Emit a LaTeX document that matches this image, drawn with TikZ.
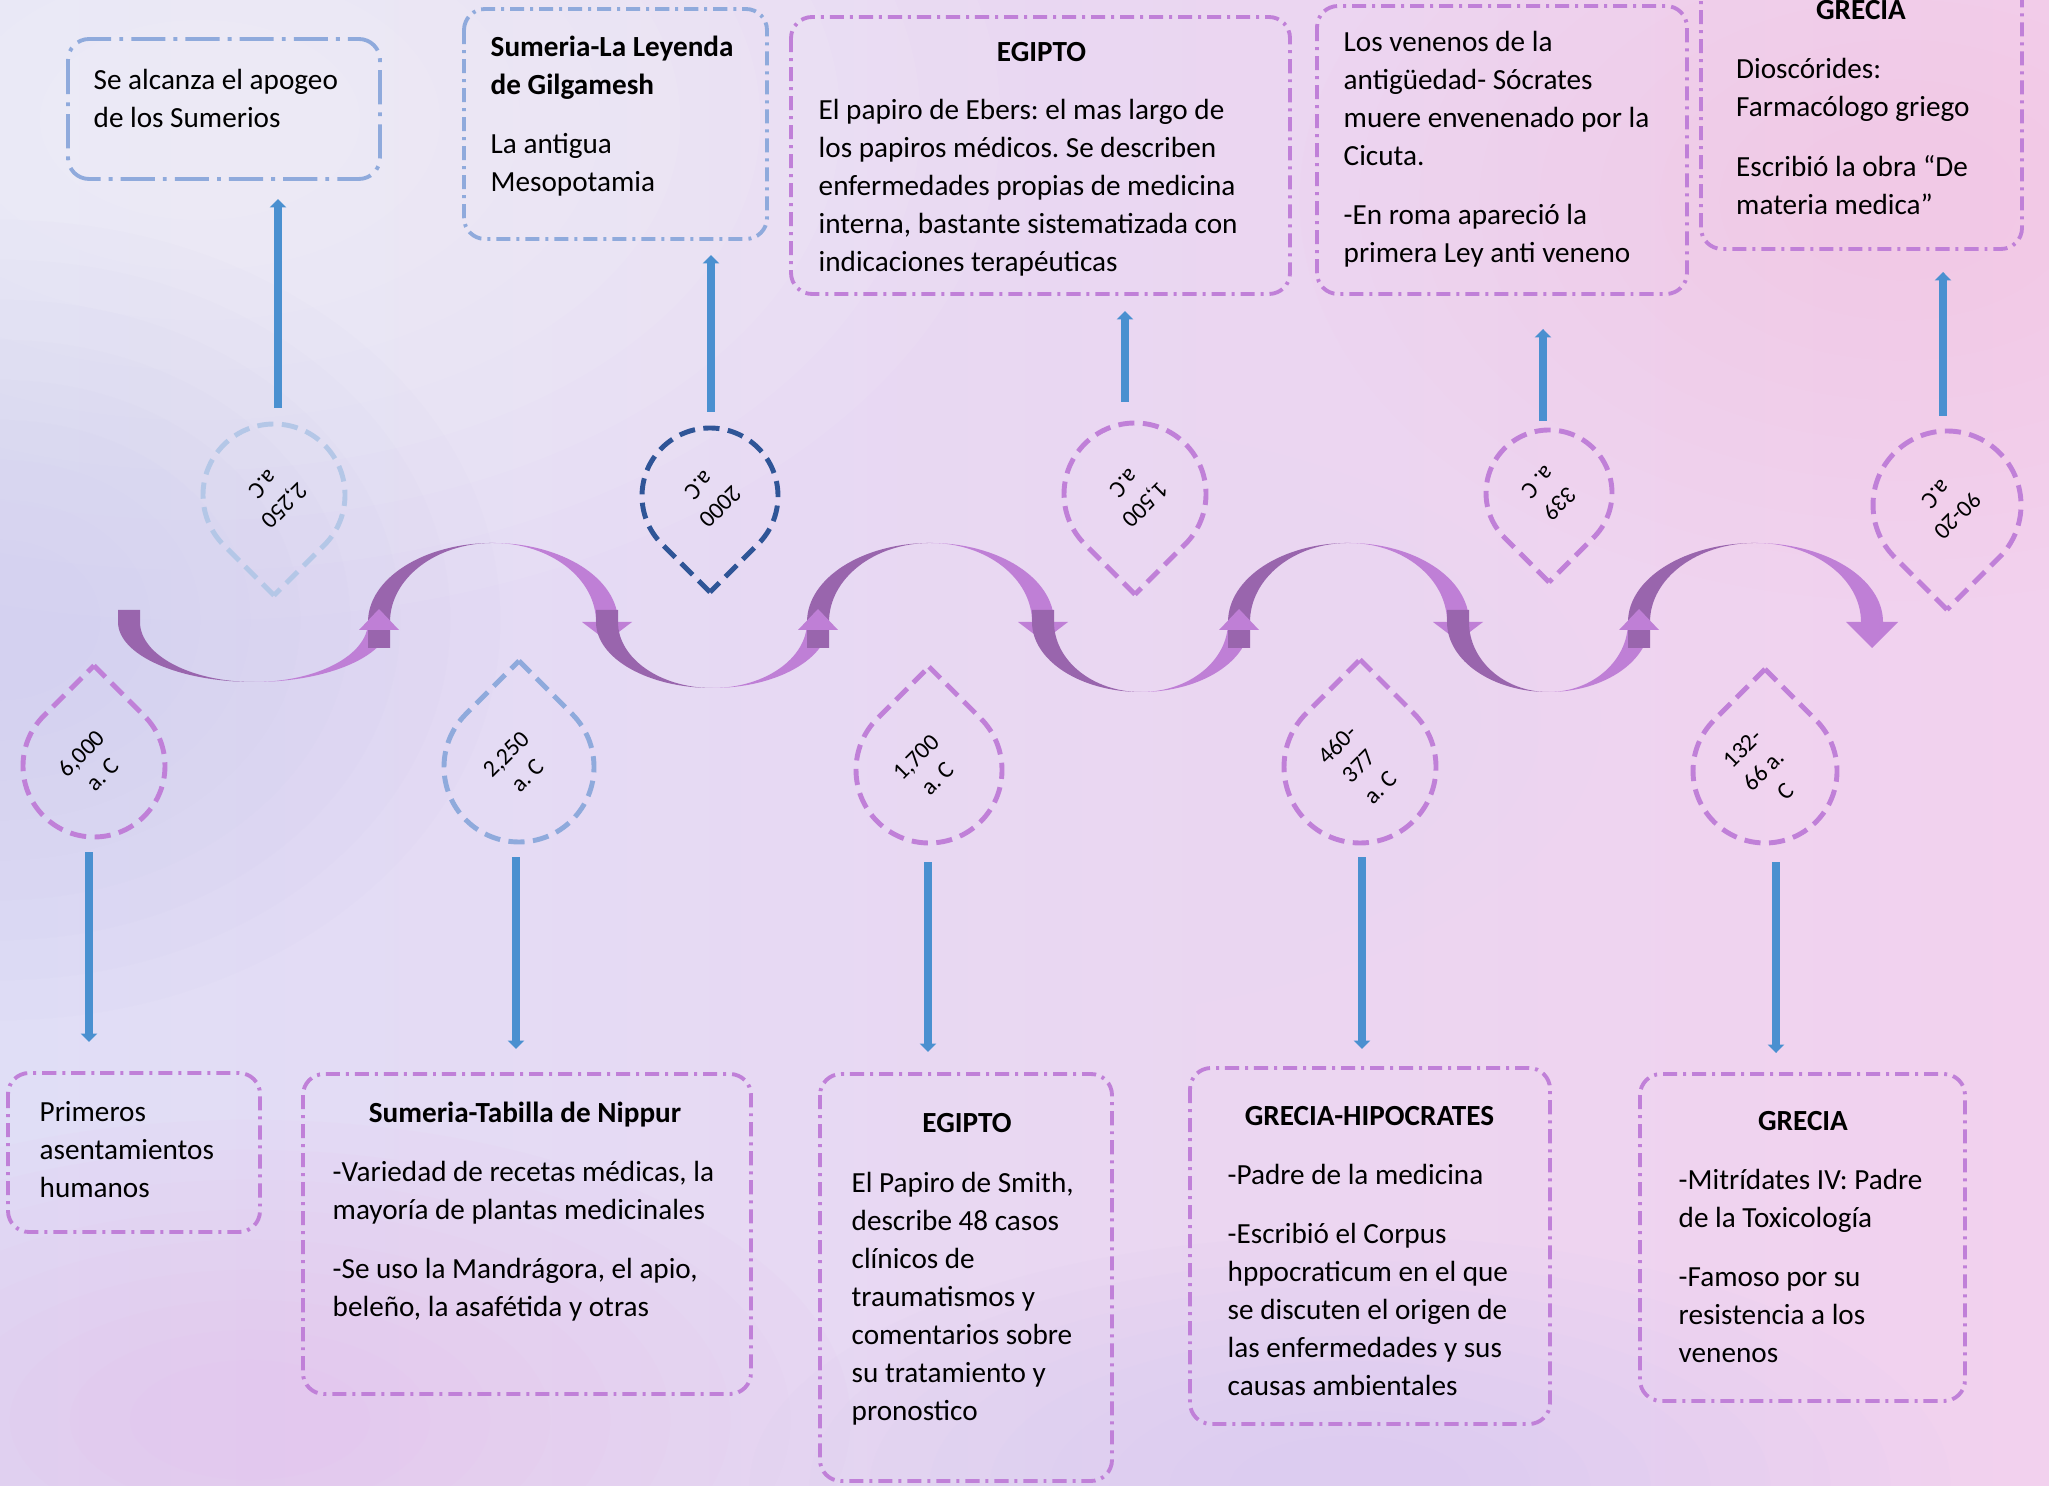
\documentclass[tikz,border=0pt]{standalone}
\usepackage{fontspec}
\setmainfont{Carlito}
\usetikzlibrary{arrows.meta}
\definecolor{pur}{HTML}{C080D8}
\definecolor{blu}{HTML}{8FAADC}
\definecolor{lblu}{HTML}{B4C7E7}
\definecolor{dblu}{HTML}{2F5597}
\definecolor{wavel}{HTML}{BF7FD6}
\definecolor{waved}{HTML}{9965AD}
\definecolor{arrb}{HTML}{4A90D0}
\definecolor{bgL}{HTML}{E0DEF6}
\definecolor{bgR}{HTML}{F2D1EE}
\definecolor{bbA}{HTML}{C9C6F0}
\definecolor{bbB}{HTML}{E4B6EE}
\definecolor{bbC}{HTML}{EAE2F8}
\definecolor{bbD}{HTML}{F6C4E6}
\definecolor{bbE}{HTML}{CFC3F0}
\definecolor{bbF}{HTML}{F4D4F4}
% hump: #1 = left end x, #2 = right end x (centre lines); m = 622, b = 79, w = 22
\newcommand\wavehump[2]{%
 \pgfmathsetmacro\wc{(#1+#2)/2}%
 \pgfmathsetmacro\wo{(#2-#1)/2+11}%
 \pgfmathsetmacro\wi{(#2-#1)/2-11}%
 \fill[waved] (#1-11,648) -- (#1-11,622) arc[start angle=180,end angle=90,x radius={\wo*0.01cm},y radius=0.79cm] arc[start angle=90,end angle=180,x radius={\wi*0.01cm},y radius=0.79cm] -- (#1+11,648) -- cycle;%
 \fill[wavel] (\wc,543) arc[start angle=90,end angle=0,x radius={\wo*0.01cm},y radius=0.79cm] -- (#2+11,624) -- (#2-11,624) -- (#2-11,622) arc[start angle=0,end angle=90,x radius={\wi*0.01cm},y radius=0.79cm] -- cycle;%
}
% dip: #1 left x, #2 right x, #3 depth b
\newcommand\wavedip[3]{%
 \pgfmathsetmacro\wc{(#1+#2)/2}%
 \pgfmathsetmacro\wo{(#2-#1)/2+11}%
 \pgfmathsetmacro\wi{(#2-#1)/2-11}%
 \pgfmathsetmacro\wb{622+#3}%
 \fill[waved] (#1-11,610) -- (#1-11,622) arc[start angle=180,end angle=270,x radius={\wo*0.01cm},y radius={#3*0.01cm}] arc[start angle=270,end angle=180,x radius={\wi*0.01cm},y radius={#3*0.01cm}] -- (#1+11,610) -- cycle;%
 \fill[wavel] (\wc,\wb) arc[start angle=270,end angle=360,x radius={\wo*0.01cm},y radius={#3*0.01cm}] -- (#2+11,630) -- (#2-11,630) -- (#2-11,622) arc[start angle=360,end angle=270,x radius={\wi*0.01cm},y radius={#3*0.01cm}] -- cycle;%
}
\newcommand\uphead[1]{\fill[wavel] (#1-20,630) -- (#1+20,630) -- (#1,609) -- cycle;}
\newcommand\downhead[1]{\fill[wavel] (#1-25,622) -- (#1+25,622) -- (#1,641) -- cycle;}
\newcommand\dropU[4]{%
 \draw[dropst,draw=#4] (#1,#2-1.4142*#3) -- (#1+0.7071*#3,#2-0.7071*#3) arc[start angle=45,end angle=-225,radius={#3*0.01cm}] -- cycle;}
\newcommand\dropD[4]{%
 \draw[dropst,draw=#4] (#1,#2+1.4142*#3) -- (#1-0.7071*#3,#2+0.7071*#3) arc[start angle=225,end angle=-45,radius={#3*0.01cm}] -- cycle;}
\newcommand\blob[6]{%
 \foreach \s in {1,0.9,0.8,0.7,0.6,0.5,0.4,0.3,0.2}{\fill[#5,opacity=#6] (#1,#2) ellipse[x radius={#3cm*\s},y radius={#4cm*\s}];}}
\frenchspacing
\begin{document}
\begin{tikzpicture}[x=0.01cm,y=-0.01cm,
  boxp/.style={draw=pur,line width=1.1pt,rounded corners=6pt,dash pattern=on 4pt off 1.7pt on 0.85pt off 1.7pt},
  boxb/.style={boxp,draw=blu},
  boxbig/.style={boxb,dash pattern=on 9.7pt off 2.3pt on 1.1pt off 2.3pt},
  dropst/.style={line width=1.4pt,dash pattern=on 4.6pt off 2.4pt},
  txt/.style={anchor=north west,inner sep=0pt,align=left,font=\fontsize{8.3}{10.8}\selectfont},
  ttl/.style={anchor=base,inner sep=0pt,font=\fontsize{8.3}{10.8}\selectfont\bfseries},
  dtxt/.style={inner sep=0pt,align=center,font=\fontsize{6.8}{8.6}\selectfont},
  conn/.style={draw=arrb,line width=2.2pt,-{Triangle[width=4.6pt,length=2.4pt]}},
]
\useasboundingbox (0,0) rectangle (2049,1486);
\clip (0,0) rectangle (2049,1486);
% background
\shade[left color=bgL,right color=bgR] (0,0) rectangle (2049,1486);
\blob{200}{120}{8}{5}{white}{0.07}
\blob{0}{620}{5}{4}{bbA}{0.06}
\blob{250}{1420}{6}{3}{bbB}{0.06}
\blob{1000}{720}{6}{3}{bbC}{0.05}
\blob{1900}{200}{6}{4}{bbD}{0.06}
\blob{1350}{1486}{6}{2.5}{bbE}{0.06}
\blob{1950}{1250}{4}{3}{bbF}{0.05}
% wave
\wavedip{129}{379}{60}
\wavehump{379}{607}
\downhead{607}
\wavedip{607}{818}{66}
\wavehump{818}{1043}
\downhead{1043}
\wavedip{1043}{1239}{70}
\wavehump{1239}{1458}
\downhead{1458}
\wavedip{1458}{1639}{70}
\wavehump{1639}{1872}
\fill[wavel] (1846,622) -- (1898,622) -- (1872,648) -- cycle;
\uphead{379}
\uphead{818}
\uphead{1239}
\uphead{1639}
% drops
\dropD{274}{495}{71}{lblu}
\dropD{710}{496}{68}{dblu}
\dropD{1135}{494}{71}{pur}
\dropD{1549}{493}{63}{pur}
\dropD{1947}{505}{74}{pur}
\dropU{94}{766}{71}{pur}
\dropU{519}{767}{75}{blu}
\dropU{929}{770}{73}{pur}
\dropU{1360}{767}{76}{pur}
\dropU{1765}{771}{72}{pur}
\node[dtxt,rotate=225] (t1t) at (274,495) {2,250\\a.C};
\node[dtxt,rotate=225] (t2t) at (710,496) {2000\\a.C};
\node[dtxt,rotate=225] (t3t) at (1135,494) {1,500\\a.C};
\node[dtxt,rotate=225] (t4t) at (1549,493) {339\\a. C};
\node[dtxt,rotate=225] (t5t) at (1947,505) {90-20\\a.C};
\node[dtxt,rotate=45] (d1t) at (92,764) {6,000\\a. C};
\node[dtxt,rotate=45] (d2t) at (517,765) {2,250\\a. C};
\node[dtxt,rotate=45] (d3t) at (927,768) {1,700\\a. C};
\node[dtxt,rotate=45] (d4t) at (1359,766) {460-\\377\\a. C};
\node[dtxt,rotate=45] (d5t) at (1764,770) {132-\\66 a.\\C};
% connectors
\coordinate (t1s) at (278,408); \coordinate (t1e) at (278,199);
\coordinate (t2s) at (711,412); \coordinate (t2e) at (711,255);
\coordinate (t3s) at (1125,402); \coordinate (t3e) at (1125,311);
\coordinate (t4s) at (1543,421); \coordinate (t4e) at (1543,329);
\coordinate (t5s) at (1943,416); \coordinate (t5e) at (1943,272);
\coordinate (d1s) at (89,852); \coordinate (d1e) at (89,1042);
\coordinate (d2s) at (516,857); \coordinate (d2e) at (516,1049);
\coordinate (d3s) at (928,862); \coordinate (d3e) at (928,1052);
\coordinate (d4s) at (1362,857); \coordinate (d4e) at (1362,1049);
\coordinate (d5s) at (1776,862); \coordinate (d5e) at (1776,1053);
\foreach \p in {t1,t2,t3,t4,t5,d1,d2,d3,d4,d5}{\draw[conn] (\p s) -- (\p e);}
% boxes
\draw[boxbig] (68,39) rectangle (380,179);
\draw[boxb] (464,9) rectangle (767,239);
\draw[boxp] (791,17) rectangle (1290,294);
\draw[boxp] (1317,6) rectangle (1687,294);
\draw[boxp] (1701,-40) rectangle (2022,249);
\draw[boxp] (8,1073) rectangle (260,1232);
\draw[boxp] (303,1074) rectangle (751,1394);
\draw[boxp] (820,1074) rectangle (1112,1481);
\draw[boxp] (1190,1068) rectangle (1550,1424);
\draw[boxp] (1640,1074) rectangle (1965,1401);
% texts
\node[txt] (b1t) at (93,62) {\strut Se alcanza el apogeo\\de los Sumerios};
\node[txt] (b2t) at (490,29.4) {\strut\textbf{Sumeria-La Leyenda}\\\textbf{de Gilgamesh}\\[5.9pt]La antigua\\Mesopotamia};
\node[ttl] (b3h) at (1041.5,62) {EGIPTO};
\node[txt] (b3t) at (818,92) {\strut El papiro de Ebers: el mas largo de\\los papiros médicos. Se describen\\enfermedades propias de medicina\\interna, bastante sistematizada con\\indicaciones terapéuticas};
\node[txt] (b4t) at (1343,24) {\strut Los venenos de la\\antigüedad- Sócrates\\muere envenenado por la\\Cicuta.\\[6pt]-En roma apareció la\\primera Ley anti veneno};
\node[ttl] (b5h) at (1861,19.5) {GRECIA};
\node[txt] (b5t) at (1735.5,51.7) {\strut Dioscórides:\\Farmacólogo griego\\[6pt]Escribió la obra “De\\materia medica”};
\node[txt] (c1t) at (39,1094.5) {\strut Primeros\\asentamientos\\humanos};
\node[ttl] (c2h) at (525,1122.4) {Sumeria-Tabilla de Nippur};
\node[txt] (c2t) at (332,1154.6) {\strut -Variedad de recetas médicas, la\\mayoría de plantas medicinales\\[6pt]-Se uso la Mandrágora, el apio,\\beleño, la asafétida y otras};
\node[ttl] (c3h) at (967,1132.8) {EGIPTO};
\node[txt] (c3t) at (851,1165) {\strut El Papiro de Smith,\\describe 48 casos\\clínicos de\\traumatismos y\\comentarios sobre\\su tratamiento y\\pronostico};
\node[ttl] (c4h) at (1369.5,1125) {GRECIA-HIPOCRATES};
\node[txt] (c4t) at (1227,1157) {\strut -Padre de la medicina\\[6pt]-Escribió el Corpus\\hppocraticum en el que\\se discuten el origen de\\las enfermedades y sus\\causas ambientales};
\node[ttl] (c5h) at (1803,1130) {GRECIA};
\node[txt] (c5t) at (1678,1162.4) {\strut -Mitrídates IV: Padre\\de la Toxicología\\[6pt]-Famoso por su\\resistencia a los\\venenos};
\end{tikzpicture}
\end{document}
